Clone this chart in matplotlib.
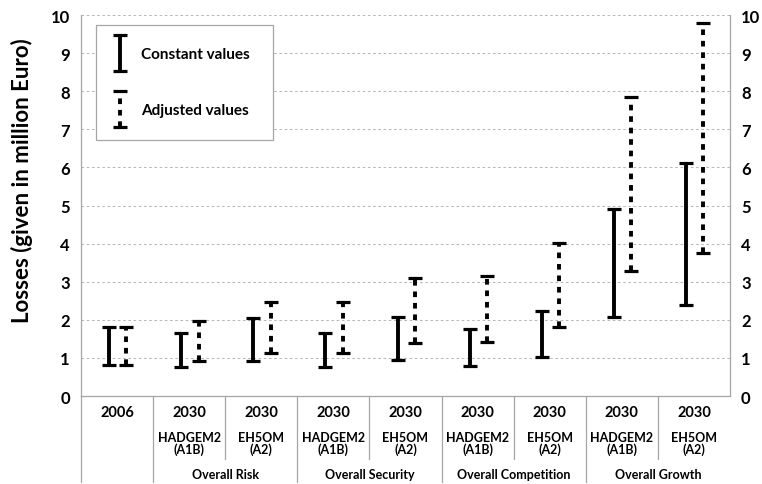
import matplotlib

matplotlib.use("Agg")

import matplotlib.pyplot as plt
import numpy as np
from matplotlib.container import ErrorbarContainer
from matplotlib.legend_handler import HandlerErrorbar

plt.rcParams["font.family"] = ["Lato", "DejaVu Sans"]
plt.rcParams["font.weight"] = "bold"

# category labels (three levels)
years = ["2006", "2030", "2030", "2030", "2030", "2030", "2030", "2030", "2030"]
models = ["", "HADGEM2\n(A1B)", "EH5OM\n(A2)", "HADGEM2\n(A1B)", "EH5OM\n(A2)",
          "HADGEM2\n(A1B)", "EH5OM\n(A2)", "HADGEM2\n(A1B)", "EH5OM\n(A2)"]
groups = ["Overall Risk", "Overall Security", "Overall Competition", "Overall Growth"]

# loss ranges (million Euro)
const_low = [0.82, 0.76, 0.92, 0.76, 0.95, 0.80, 1.02, 2.07, 2.38]
const_high = [1.81, 1.66, 2.05, 1.66, 2.07, 1.76, 2.23, 4.91, 6.11]
adj_low = [0.82, 0.92, 1.14, 1.14, 1.40, 1.42, 1.81, 3.29, 3.76]
adj_high = [1.81, 1.98, 2.47, 2.47, 3.11, 3.14, 4.01, 7.86, 9.78]

GRAY = "#a6a6a6"
DOTS = (0, (1.45, 1.5))


def range_bars(ax, x, low, high, label, dotted=False):
    low = np.asarray(low)
    high = np.asarray(high)
    mid = (low + high) / 2
    eb = ax.errorbar(x, mid, yerr=[mid - low, high - mid], fmt="none",
                     ecolor="black", elinewidth=2.8, capsize=5, capthick=2.3,
                     label=label, zorder=3)
    if dotted:
        eb.lines[2][0].set_linestyle(DOTS)
    return eb


fig = plt.figure(figsize=(7.62, 4.85), dpi=100)
ax = fig.add_axes([0.1063, 0.1814, 0.8517, 0.7856])

pos = np.arange(len(years))
range_bars(ax, pos - 0.11, const_low, const_high, "Constant values")
range_bars(ax, pos + 0.13, adj_low, adj_high, "Adjusted values", dotted=True)

ax.set_xlim(-0.5, len(years) - 0.5)
ax.set_ylim(0, 10)
ax.set_yticks(np.arange(0, 11))
ax.set_xticks([])
ax.tick_params(axis="y", length=0, labelsize=12, labelright=True, pad=8)
for lab in ax.get_yticklabels():
    lab.set_fontweight("bold")
ax.yaxis.grid(True, color="#b8b8b8", lw=0.75, ls=(0, (2.5, 2.5)))
ax.set_axisbelow(True)
ax.spines["top"].set_visible(False)
for side in ("left", "right", "bottom"):
    ax.spines[side].set_color(GRAY)
    ax.spines[side].set_linewidth(0.9)

fig.text(21.7 / 762, 1 - 180.5 / 485, "Losses (given in million Euro)",
         rotation=90, ha="center", va="center", fontsize=16, fontweight="bold")

# multi-level category axis
xt = ax.get_xaxis_transform()
for i in pos:
    ax.annotate(years[i], xy=(i, 0), xycoords=xt, xytext=(0, -11.3),
                textcoords="offset points", ha="center", va="center",
                fontsize=10.5, fontweight="bold")
    if models[i]:
        ax.annotate(models[i], xy=(i, 0), xycoords=xt, xytext=(0, -33.8),
                    textcoords="offset points", ha="center", va="center",
                    fontsize=9, fontweight="bold", linespacing=1.0)
for g, name in enumerate(groups):
    cx = 1.5 + 2 * g
    ax.annotate(name, xy=(cx, 0), xycoords=xt, xytext=(0, -56.5),
                textcoords="offset points", ha="center", va="center",
                fontsize=9, fontweight="bold")

for b in np.arange(-0.5, len(years) - 1):
    depth = 0.226 if b < 0 or (b - 0.5) % 2 == 0 else 0.165
    ax.plot([b, b], [0, -depth], transform=xt, color=GRAY, lw=0.9,
            clip_on=False)

handles, labels = ax.get_legend_handles_labels()
leg = ax.legend(handles, labels, loc="upper left",
                bbox_to_anchor=(0.023, 0.975), borderaxespad=0,
                fontsize=11, handlelength=0.1, handleheight=0.7,
                labelspacing=2.75, handletextpad=1.35, borderpad=1.5,
                fancybox=False, framealpha=1, edgecolor=GRAY,
                handler_map={ErrorbarContainer: HandlerErrorbar(yerr_size=1.2)})
leg.get_frame().set_linewidth(0.9)
for t in leg.get_texts():
    t.set_fontweight("bold")

fig.savefig("out.png", dpi=100)
